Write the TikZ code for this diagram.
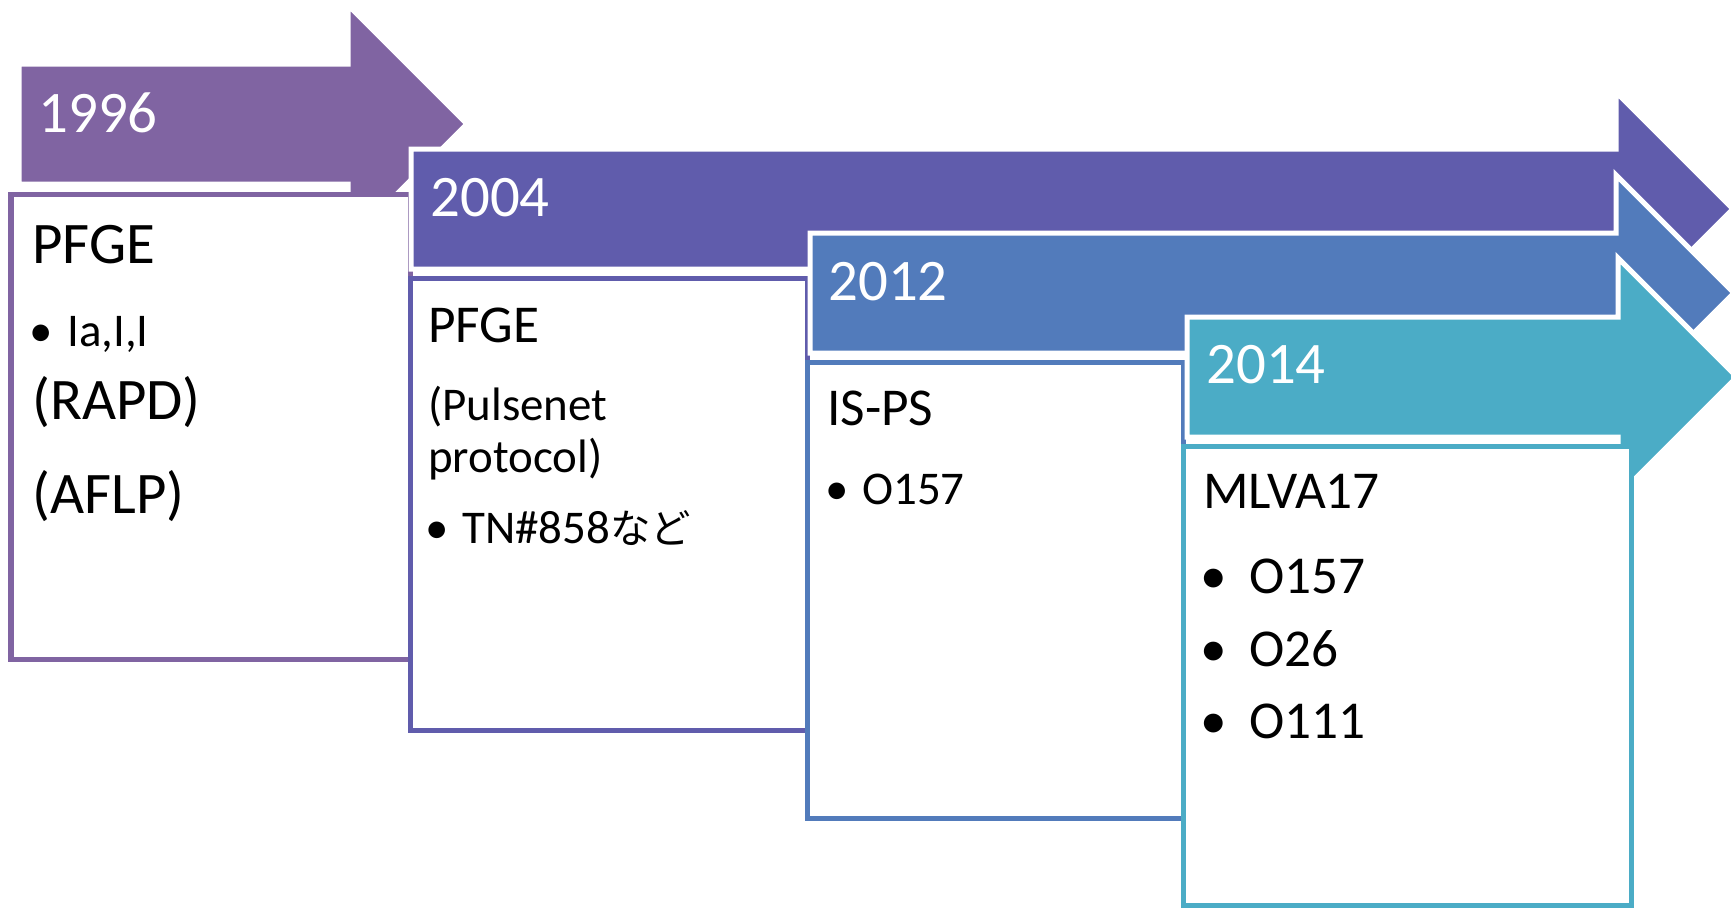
\documentclass[tikz,border=0pt]{standalone}
\usepackage{fontspec}
\setmainfont{Carlito}
\newfontfamily\jpfont{Noto Sans CJK JP}
\definecolor{yrA}{HTML}{8064A2}
\definecolor{yrB}{HTML}{605CAC}
\definecolor{yrC}{HTML}{527BBB}
\definecolor{yrD}{HTML}{4BACC6}
% arrow: colour, left x, centre y, head base x, tip x
\newcommand{\yeararrow}[5]{%
	\filldraw[#1, draw=white, line width=2.85pt, line join=miter]
	(#2,{#3-60}) -- (#4,{#3-60}) -- (#4,{#3-(#5-#4)}) -- (#5,#3)
	-- (#4,{#3+(#5-#4)}) -- (#4,{#3+60}) -- (#2,{#3+60}) -- cycle;}
\newcommand{\bul}[1]{\makebox[#1][c]{\textbullet}}

\begin{document}
\begin{tikzpicture}[x=0.2mm, y=-0.2mm,
	year/.style={text=white, inner sep=0pt, anchor=base west, font=\fontsize{33.5pt}{40pt}\selectfont},
	big/.style={inner sep=0pt, anchor=base west, font=\fontsize{33.5pt}{40pt}\selectfont},
	mid/.style={inner sep=0pt, anchor=base west, font=\fontsize{30.3pt}{36pt}\selectfont},
	small/.style={inner sep=0pt, anchor=base west, font=\fontsize{26.7pt}{29.6pt}\selectfont},
	box/.style={fill=white, line width=2.85pt}]
		\useasboundingbox (0,0) rectangle (1731,907);
		
		% 1996
		\yeararrow{yrA}{19}{124}{348}{467}
		\node[year] (y1996) at (38,132) {1996};
		\draw[box, draw=yrA] (11,194) rectangle (410,659);
		\node[big] (pfge1) at (32,263) {PFGE};
		\node[small] (ia) at (15,346) {\bul{10.4mm}Ia,I,I};
		\node[big] (rapd) at (32,419) {(RAPD)};
		\node[big] (aflp) at (32,513) {(AFLP)};
		
		% 2004
		\yeararrow{yrB}{411}{209}{1616}{1733}
		\node[year] (y2004) at (430,216) {2004};
		\draw[box, draw=yrB] (410,278) rectangle (807,730);
		\node[mid] (pfge2) at (428,342) {PFGE};
		\node[small] (pulse) at (428,420) {(Pulsenet};
		\node[small] (proto) at (428,472) {protocol)};
		\node[small] (tn) at (412,543) {\bul{10mm}TN\#858{\jpfont\fontsize{23pt}{28pt}\selectfont など}};
		
		% 2012
		\yeararrow{yrC}{810}{293}{1616}{1734}
		\node[year] (y2012) at (828,300) {2012};
		\draw[box, draw=yrC] (807,362) rectangle (1183,818);
		\node[mid] (isps) at (827,425) {IS-PS};
		\node[small] (o157a) at (812,504) {\bul{10mm}O157};
		
		% 2014
		\yeararrow{yrD}{1187}{377}{1618}{1737}
		\node[year] (y2014) at (1206,383) {2014};
		\draw[box, draw=yrD] (1183,446) rectangle (1631,905);
		\node[mid] (mlva) at (1203,508) {MLVA17};
		\node[mid] (o157b) at (1177,593) {\bul{14.4mm}O157};
		\node[mid] (o26) at (1177,666) {\bul{14.4mm}O26};
		\node[mid] (o111) at (1177,738) {\bul{14.4mm}O111};
		
\end{tikzpicture}
\end{document}
